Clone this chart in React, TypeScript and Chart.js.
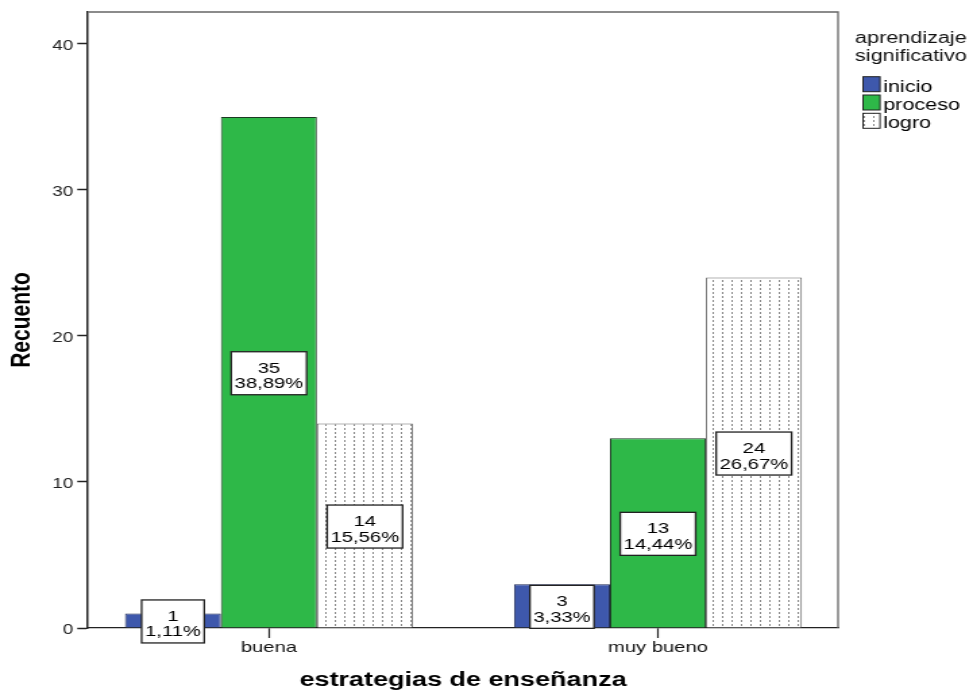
import React, { useEffect, useRef } from 'react';
import { Chart, registerables } from 'chart.js';

Chart.register(...registerables);

// ---- data ----
const categories = ['buena', 'muy bueno'];
const seriesNames = ['inicio', 'proceso', 'logro'];
const inicio = [1, 3];
const proceso = [35, 13];
const logro = [14, 24];
const yTicks = [0, 10, 20, 30, 40];
const legendTitle = ['aprendizaje', 'significativo'];
const xTitle = 'estrategias de enseñanza';
const yTitle = 'Recuento';

const seriesValues = [inicio, proceso, logro];
const total = seriesValues.flat().reduce((a, b) => a + b, 0);
const pct = (v: number) => ((v / total) * 100).toFixed(2).replace('.', ',') + '%';

// ---- layout (canvas is drawn narrow then stretched horizontally, like the reference) ----
const W = 721;
const H = 696;
const FONT = "'Liberation Sans', Arial, sans-serif";

function makeDotPattern(): CanvasPattern | string {
  const c = document.createElement('canvas');
  c.width = 7;
  c.height = 4;
  const g = c.getContext('2d');
  if (!g) return '#ffffff';
  g.fillStyle = '#ffffff';
  g.fillRect(0, 0, 7, 4);
  g.fillStyle = '#8a8a8a';
  g.fillRect(3, 0, 1, 2);
  const p = g.createPattern(c, 'repeat');
  return p || '#ffffff';
}

const boxLabels = {
  id: 'boxLabels',
  afterDatasetsDraw(chart: any) {
    const ctx = chart.ctx;
    ctx.save();
    ctx.font = `15px ${FONT}`;
    chart.data.datasets.forEach((_ds: any, di: number) => {
      const meta = chart.getDatasetMeta(di);
      meta.data.forEach((el: any, i: number) => {
        const v = seriesValues[di][i];
        const l1 = String(v);
        const l2 = pct(v);
        const w = Math.max(ctx.measureText(l1).width, ctx.measureText(l2).width) + 5;
        const mid = (el.y + el.base) / 2;
        const top = mid - 20.5;
        const h = 43;
        ctx.fillStyle = '#ffffff';
        ctx.fillRect(el.x - w / 2, top, w, h);
        ctx.strokeStyle = '#222222';
        ctx.lineWidth = 1.3;
        ctx.strokeRect(el.x - w / 2, top, w, h);
        ctx.fillStyle = '#000000';
        ctx.textAlign = 'center';
        ctx.textBaseline = 'alphabetic';
        ctx.fillText(l1, el.x, mid + 0.5);
        ctx.fillText(l2, el.x, mid + 16);
      });
    });
    ctx.restore();
  },
};

const frameAndLegend = {
  id: 'frameAndLegend',
  afterDraw(chart: any) {
    const ctx = chart.ctx;
    const a = chart.chartArea;
    ctx.save();
    ctx.strokeStyle = '#666666';
    ctx.lineWidth = 1.3;
    ctx.beginPath();
    ctx.moveTo(a.left, a.top);
    ctx.lineTo(a.right, a.top);
    ctx.lineTo(a.right, a.bottom);
    ctx.stroke();

    // legend
    ctx.fillStyle = '#111111';
    ctx.font = `16px ${FONT}`;
    ctx.textAlign = 'left';
    ctx.textBaseline = 'alphabetic';
    const lx = a.right + 12.6;
    ctx.fillText(legendTitle[0], lx, 43.3);
    ctx.fillText(legendTitle[1], lx, 60.7);
    const bx = a.right + 18.5;
    const tx = a.right + 33.4;
    chart.data.datasets.forEach((ds: any, i: number) => {
      const base = 91.7 + i * 18.3;
      ctx.fillStyle = ds.backgroundColor;
      ctx.fillRect(bx, base - 15, 12.6, 15);
      ctx.strokeStyle = '#222222';
      ctx.lineWidth = 1;
      ctx.strokeRect(bx, base - 15, 12.6, 15);
      ctx.fillStyle = '#000000';
      ctx.fillText(seriesNames[i], tx, base);
    });
    ctx.restore();
  },
};

export default function App() {
  const ref = useRef<HTMLCanvasElement | null>(null);

  useEffect(() => {
    if (!ref.current) return;
    const pattern = makeDotPattern();
    const colors: any[] = ['#3e58ac', '#2eb848', pattern];
    const borders = ['#1f2a55', '#1c3a22', '#666666'];
    const chart = new Chart(ref.current, {
      type: 'bar',
      data: {
        datasets: seriesNames.map((name, di) => ({
          label: name,
          data: seriesValues[di].map((v, i) => ({ x: i, y: v })),
          backgroundColor: colors[di],
          borderColor: borders[di],
          borderWidth: 1,
          categoryPercentage: 0.74,
          barPercentage: 1,
        })),
      },
      options: {
        responsive: false,
        animation: false,
        devicePixelRatio: 1,
        layout: { padding: { top: 12, right: 100, left: 0, bottom: 0 } },
        plugins: {
          legend: { display: false },
          tooltip: { enabled: false },
        },
        scales: {
          x: {
            type: 'linear',
            min: -0.465,
            max: 1.463,
            offset: false,
            afterBuildTicks: (s: any) => {
              s.ticks = categories.map((_c, i) => ({ value: i }));
            },
            afterFit: (s: any) => {
              s.height = 68;
            },
            ticks: {
              callback: (v: any) => categories[v] ?? '',
              font: { family: FONT, size: 15 },
              color: '#111111',
              padding: 1,
              maxRotation: 0,
              autoSkip: false,
            },
            grid: { offset: false, drawOnChartArea: false, drawTicks: true, tickLength: 10, color: '#222222', tickWidth: 1.2 },
            border: { display: true, color: '#222222', width: 1.3 },
            title: {
              display: true,
              text: xTitle,
              font: { family: FONT, size: 20, weight: 'bold' },
              color: '#000000',
              padding: { top: 0, bottom: 4 },
            },
          },
          y: {
            min: 0,
            max: 42.19,
            afterBuildTicks: (s: any) => {
              s.ticks = yTicks.map((v) => ({ value: v }));
            },
            afterFit: (s: any) => {
              s.width = 65.2;
            },
            ticks: {
              font: { family: FONT, size: 14 },
              color: '#222222',
              padding: 3,
              labelOffset: 2,
            },
            grid: { offset: false, drawOnChartArea: false, tickLength: 8, color: '#222222', tickWidth: 1.5 },
            border: { display: true, color: '#222222', width: 1.5 },
            title: {
              display: true,
              text: yTitle,
              font: { family: FONT, size: 21, weight: 'bold' },
              color: '#000000',
              padding: { top: 3.7, bottom: 0 },
            },
          },
        },
      } as any,
      plugins: [boxLabels, frameAndLegend],
    });
    return () => chart.destroy();
  }, []);

  return (
    <div style={{ position: 'absolute', left: 0, top: 0, width: 973, height: 696, background: '#ffffff' }}>
      <canvas ref={ref} width={W} height={H} style={{ width: '973px', height: '696px', display: 'block' }} />
    </div>
  );
}
